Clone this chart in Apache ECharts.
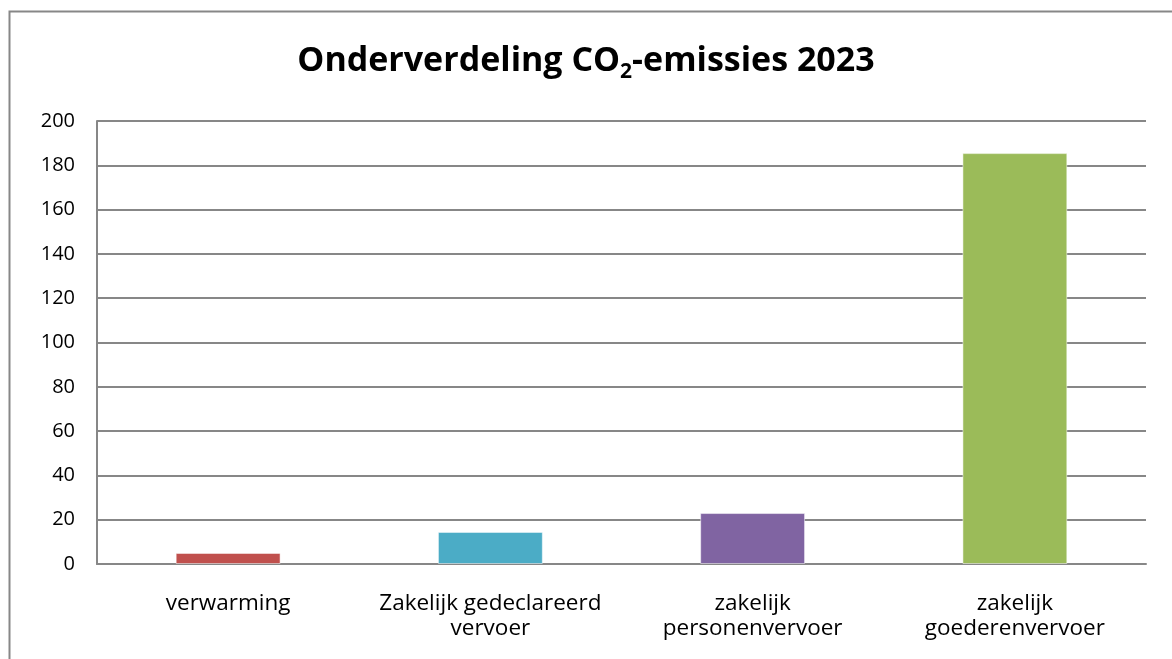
<!DOCTYPE html>
<html>
<head>
<meta charset="utf-8">
<script src="https://cdn.jsdelivr.net/npm/echarts@6/dist/echarts.min.js"></script>
<style>html,body{margin:0;padding:0;background:#fff;}#c{width:1172px;height:659px;}</style>
</head>
<body>
<div id="c"></div>
<script>
const categories = ['verwarming', 'Zakelijk gedeclareerd\nvervoer', 'zakelijk\npersonenvervoer', 'zakelijk\ngoederenvervoer'];
const values = [5, 14.5, 23, 185.5];
const colors = ['#C0504D', '#4BACC6', '#8064A2', '#9BBB59'];
const yTicks = [0, 20, 40, 60, 80, 100, 120, 140, 160, 180, 200];

const font = '"Open Sans", "Noto Sans", sans-serif';
const chart = echarts.init(document.getElementById('c'));
chart.setOption({
  animation: false,
  backgroundColor: '#fff',
  graphic: [{
    type: 'rect', shape: {x: 9.5, y: 11.5, width: 1300, height: 800},
    style: {fill: 'none', stroke: '#878787', lineWidth: 2}, silent: true, z: -1
  }],
  title: {
    text: '{a|Onderverdeling CO}{b|2}{a|-emissies 2023}',
    left: 'center', top: 34,
    textStyle: {
      rich: {
        a: {fontFamily: font, fontWeight: 'bold', fontSize: 34, color: '#000', lineHeight: 44},
        b: {fontFamily: font, fontWeight: 'bold', fontSize: 21, color: '#000', verticalAlign: 'bottom', lineHeight: 18}
      }
    }
  },
  grid: {left: 97, right: 26, top: 121, bottom: 95, containLabel: false},
  xAxis: {
    type: 'category', data: categories,
    axisLine: {lineStyle: {color: '#878787', width: 2}},
    axisTick: {show: false},
    axisLabel: {fontFamily: font, fontSize: 22.5, color: '#000', lineHeight: 25, margin: 27, interval: 0}
  },
  yAxis: {
    type: 'value', min: 0, max: 200, interval: 20,
    axisLine: {show: true, lineStyle: {color: '#878787', width: 2}},
    axisTick: {show: false},
    splitLine: {lineStyle: {color: '#878787', width: 2}},
    axisLabel: {fontFamily: font, fontSize: 20, color: '#000', margin: 22,
      formatter: v => yTicks.includes(v) ? String(v) : ''}
  },
  series: [{
    type: 'bar',
    barWidth: '40%',
    data: values.map((v, i) => ({value: v, itemStyle: {color: colors[i]}})),
    itemStyle: {borderColor: 'rgba(255,255,255,0.5)', borderWidth: 1}
  }]
});
</script>
</body>
</html>
